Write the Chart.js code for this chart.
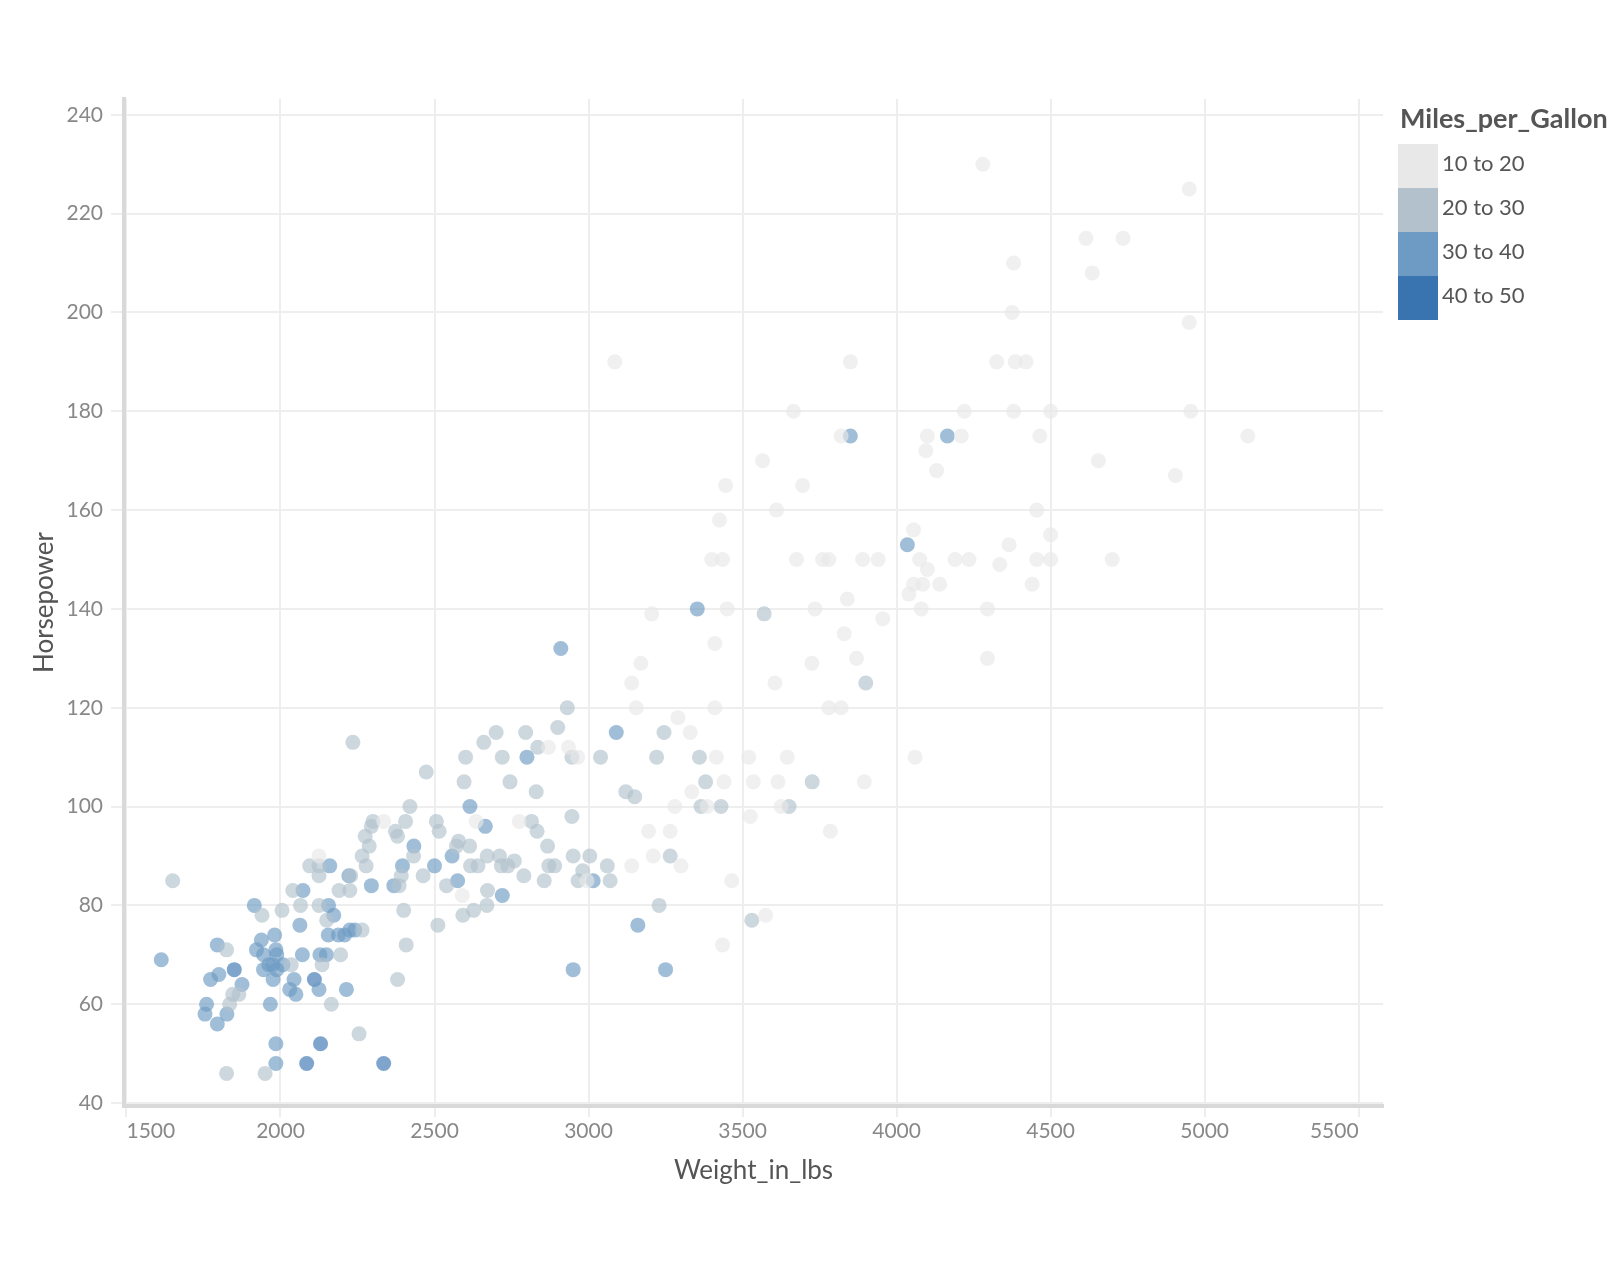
<!DOCTYPE html>
<html>
<head>
<meta charset="utf-8">
<script src="https://cdn.jsdelivr.net/npm/chart.js@4.4.1/dist/chart.umd.min.js"></script>
<style>
  html, body { margin: 0; padding: 0; background: #fff; }
  canvas { display: block; }
</style>
</head>
<body>
<canvas id="carsChart" width="1622" height="1284"></canvas>
<script>
// Miles_per_Gallon bins
const mpgBins = ["10 to 20", "20 to 30", "30 to 40", "40 to 50"];

// [Weight_in_lbs, Horsepower] per bin
const cars10to20 = [
  [4280,230],[4950,225],[4615,215],[4735,215],[4380,210],[4635,208],[4375,200],[4950,198],
  [3085,190],[3850,190],[4325,190],[4385,190],[4420,190],
  [3665,180],[4220,180],[4380,180],[4500,180],[4955,180],
  [3820,175],[4100,175],[4210,175],[4465,175],[5140,175],
  [4095,172],[3565,170],[4655,170],[4130,168],[4905,167],[3445,165],[3695,165],
  [3610,160],[4455,160],[3425,158],[4055,156],[4500,155],[4365,153],
  [3400,150],[3435,150],[3675,150],[3760,150],[3780,150],[3890,150],[3940,150],[4075,150],
  [4190,150],[4235,150],[4455,150],[4500,150],[4700,150],
  [4335,149],[4100,148],[4055,145],[4085,145],[4140,145],[4440,145],[4040,143],[3840,142],
  [3450,140],[3735,140],[4080,140],[4295,140],[3205,139],[3955,138],[3830,135],[3410,133],
  [3870,130],[4295,130],[3170,129],[3725,129],
  [3140,125],[3605,125],[3155,120],[3410,120],[3780,120],[3820,120],
  [3290,118],[3330,115],[2870,112],[2935,112],[2965,110],[3415,110],[3520,110],[3645,110],[4060,110],
  [3440,105],[3535,105],[3615,105],[3895,105],[3335,103],
  [3280,100],[3385,100],[3625,100],[3525,98],[2335,97],[2635,97],[2775,97],
  [3195,95],[3265,95],[3785,95],
  [2125,90],[3210,90],[3140,88],[3300,88],[2995,85],[3465,85],[2590,82],
  [3575,78],[3435,72]
];
const cars20to30 = [
  [1650,85],[1825,46],[1950,46],[1825,71],[1835,60],[1845,62],[1865,62],[1940,78],[2005,79],
  [2040,83],[2065,80],[2095,88],[2125,88],[2125,86],[2125,80],[2135,68],[2150,77],[2165,60],
  [2190,83],[2195,70],[2225,83],[2228,86],[2235,113],[2255,54],[2265,75],[2265,90],[2275,94],
  [2278,88],[2288,92],[2295,96],[2300,97],[2380,65],[2373,95],[2380,94],[2385,84],[2392,86],
  [2400,79],[2408,72],[2406,97],[2420,100],[2473,107],[2463,86],[2432,90],[2506,97],[2515,95],
  [2511,76],[2539,84],[2571,92],[2578,93],[2592,78],[2596,105],[2601,110],[2614,92],[2617,88],
  [2627,79],[2641,88],[2660,113],[2670,80],[2671,90],[2672,83],[2700,115],[2711,90],[2717,88],
  [2720,110],[2745,105],[2738,88],[2759,89],[2796,115],[2790,86],[2815,97],[2830,103],[2833,95],
  [2835,112],[2856,85],[2867,92],[2871,88],[2890,88],[2900,116],[2931,120],[2946,110],[2946,98],
  [2950,90],[2966,85],[2981,87],[3004,90],[3039,110],[3061,88],[3070,85],[3121,103],[3150,102],
  [3221,110],[3245,115],[3229,80],[3265,90],[3380,105],[3360,110],[3365,100],[3430,100],
  [3530,77],[3570,139],[3651,100],[3726,105],[3900,125],[2035,68]
];
const cars30to40 = [
  [1613,69],[1755,58],[1760,60],[1773,65],[1795,72],[1795,56],[1800,66],[1826,58],[1875,64],
  [1915,80],[1922,71],[1938,73],[1945,70],[1945,67],[1962,68],[1967,60],[1976,65],[1981,74],
  [1985,48],[1985,52],[1985,71],[1988,70],[1988,67],[1975,68],[2008,68],[2030,63],[2044,65],
  [2050,62],[2063,76],[2071,70],[2073,83],[2125,63],[2128,70],[2149,70],[2155,74],[2156,80],
  [2160,88],[2173,78],[2188,74],[2208,74],[2214,63],[2225,75],[2241,75],[2222,86],[2295,84],
  [2368,84],[2396,88],[2433,92],[2500,88],[2557,90],[2575,85],[2615,100],[2665,96],[2720,82],
  [2800,110],[2910,132],[2950,67],[3015,85],[3090,115],[3160,76],[3250,67],[3353,140],
  [3850,175],[4165,175],[4035,153]
];
const cars40to50 = [[1850,67],[2085,48],[2110,65],[2130,52],[2335,48]];

const xTicks = [1500, 2000, 2500, 3000, 3500, 4000, 4500, 5000, 5500];
const yTicks = [40, 60, 80, 100, 120, 140, 160, 180, 200, 220, 240];

const binColors = ["#e8e8e8", "#b2c1cc", "#6d9bc3", "#3a74b0"];
const binData = [cars10to20, cars20to30, cars30to40, cars40to50];

function withAlpha(hex, a) {
  const r = parseInt(hex.slice(1, 3), 16);
  const g = parseInt(hex.slice(3, 5), 16);
  const b = parseInt(hex.slice(5, 7), 16);
  return `rgba(${r}, ${g}, ${b}, ${a})`;
}

// binned colour legend at the right
const binLegend = {
  id: "binLegend",
  afterDraw(chart) {
    const ctx = chart.ctx;
    ctx.save();
    ctx.fillStyle = "#555";
    ctx.font = "bold 27px Lato";
    ctx.textBaseline = "alphabetic";
    ctx.fillText("Miles_per_Gallon", 1400, 128);
    mpgBins.forEach((label, i) => {
      const y = 144 + i * 44;
      ctx.fillStyle = binColors[i];
      ctx.fillRect(1398, y, 40, 44);
      ctx.fillStyle = "#555";
      ctx.font = "22px Lato";
      ctx.textBaseline = "middle";
      ctx.fillText(label, 1442, y + 20);
    });
    ctx.restore();
  }
};

Chart.defaults.font.family = "Lato";

const canvas = document.getElementById("carsChart");
const ctx = canvas.getContext("2d");

new Chart(ctx, {
  type: "scatter",
  data: {
    datasets: mpgBins.map((label, i) => ({
      label: label,
      data: binData[i].map(([w, hp]) => ({ x: w, y: hp })),
      backgroundColor: withAlpha(binColors[i], 0.65),
      borderWidth: 0,
      pointRadius: 7.5,
      pointHoverRadius: 7.5,
    })),
  },
  options: {
    responsive: false,
    animation: false,
    layout: { padding: { top: 99, right: 239, bottom: 78, left: 0 } },
    plugins: {
      legend: { display: false },
      tooltip: { enabled: false },
    },
    scales: {
      x: {
        type: "linear",
        min: 1492,
        max: 5579,
        afterBuildTicks: (s) => { s.ticks = xTicks.map((v) => ({ value: v })); },
        afterFit: (s) => { s.height = 100; },
        grid: { color: "#eeeeee", lineWidth: 2, tickLength: 11, tickColor: "#eeeeee" },
        border: { display: true, color: "#d9d9d9", width: 4 },
        ticks: {
          align: "inner",
          color: "#888",
          font: { size: 21 },
          padding: 2,
          maxRotation: 0,
          callback: (v) => String(v),
        },
        title: {
          display: true,
          text: "Weight_in_lbs",
          color: "#555",
          font: { size: 26 },
          padding: { top: 0, bottom: 20 },
        },
      },
      y: {
        type: "linear",
        min: 39.4,
        max: 243.2,
        afterBuildTicks: (s) => { s.ticks = yTicks.map((v) => ({ value: v })); },
        afterFit: (s) => { s.width = 124; },
        grid: { color: "#eeeeee", lineWidth: 2, tickLength: 13, tickColor: "#eeeeee" },
        border: { display: true, color: "#d9d9d9", width: 4 },
        ticks: {
          color: "#888",
          font: { size: 21 },
          padding: 8,
          callback: (v) => String(v),
        },
        title: {
          display: true,
          text: "Horsepower",
          color: "#555",
          font: { size: 26 },
          padding: { top: 29, bottom: 0 },
        },
      },
    },
  },
  plugins: [binLegend],
});
</script>
</body>
</html>
